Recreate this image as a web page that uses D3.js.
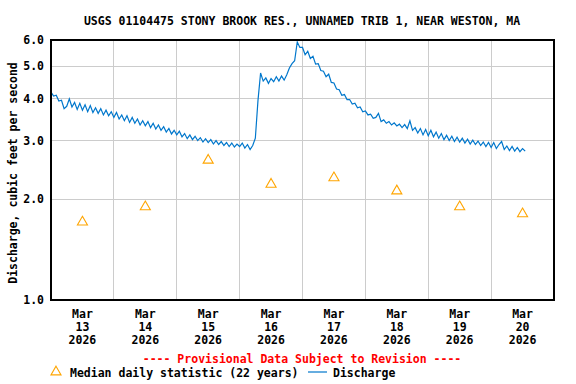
<!DOCTYPE html>
<html>
<head>
<meta charset="utf-8">
<script src="https://cdn.jsdelivr.net/npm/d3@7"></script>
<style>
  body { margin: 0; background: #fff; }
  svg { display: block; }
  text { font-family: "DejaVu Sans Mono", "Liberation Mono", monospace; font-weight: bold; }
</style>
</head>
<body>
<svg id="chart"></svg>
<script>
// chart data
var title = "USGS 01104475 STONY BROOK RES., UNNAMED TRIB 1, NEAR WESTON, MA"
var tickMonth = "Mar"
var tickDays = ["13", "14", "15", "16", "17", "18", "19", "20"]
var tickYear = "2026"
var yTicks = [1, 2, 3, 4, 5, 6]

// median daily statistic, one per day (plotted at noon)
var medianDaily = [1.71, 1.9, 2.62, 2.22, 2.32, 2.12, 1.9, 1.81]

// hourly discharge, cfs
var qMar13 = [4.19, 4.08, 4.10, 3.94, 3.96, 3.74, 3.80, 4.00, 3.78, 3.90, 3.72, 3.88, 3.70, 3.84, 3.66, 3.82, 3.64, 3.76, 3.62, 3.74, 3.58, 3.70, 3.56, 3.66]
var qMar14 = [3.52, 3.64, 3.48, 3.58, 3.44, 3.56, 3.40, 3.52, 3.38, 3.48, 3.34, 3.44, 3.32, 3.42, 3.28, 3.38, 3.25, 3.34, 3.22, 3.30, 3.18, 3.26, 3.14, 3.22]
var qMar15 = [3.12, 3.20, 3.08, 3.15, 3.04, 3.12, 3.02, 3.09, 3.00, 3.06, 2.97, 3.04, 2.96, 3.02, 2.93, 3.00, 2.92, 2.98, 2.90, 2.96, 2.88, 2.95, 2.87, 2.93]
var qMar16 = [2.88, 2.95, 2.85, 2.92, 2.82, 2.90, 3.05, 3.95, 4.78, 4.52, 4.62, 4.45, 4.60, 4.50, 4.66, 4.52, 4.68, 4.55, 4.72, 4.95, 5.10, 5.20, 5.92, 5.70]
var qMar17 = [5.70, 5.42, 5.55, 5.28, 5.36, 5.08, 5.10, 4.86, 4.84, 4.66, 4.74, 4.48, 4.46, 4.28, 4.26, 4.10, 4.12, 3.98, 3.98, 3.86, 3.88, 3.76, 3.78, 3.66]
var qMar18 = [3.68, 3.58, 3.60, 3.50, 3.52, 3.62, 3.42, 3.46, 3.38, 3.42, 3.34, 3.39, 3.32, 3.36, 3.28, 3.35, 3.26, 3.44, 3.22, 3.28, 3.16, 3.26, 3.12, 3.24]
var qMar19 = [3.10, 3.22, 3.08, 3.18, 3.05, 3.15, 3.02, 3.11, 3.00, 3.09, 2.98, 3.07, 2.97, 3.05, 2.95, 3.03, 2.93, 3.01, 2.92, 2.99, 2.90, 2.97, 2.88, 2.96]
var qMar20 = [2.86, 2.96, 2.84, 2.92, 2.98, 2.82, 2.89, 2.80, 2.88, 2.79, 2.86, 2.78, 2.84, 2.79]

var dimensions = {
    width: 576,
    height: 384,
    margin: { top: 40, bottom: 84, left: 51, right: 22 }
}

var svg = d3.select("#chart")
    .attr("width", dimensions.width)
    .attr("height", dimensions.height)

var x0 = dimensions.margin.left
var x1 = dimensions.width - dimensions.margin.right
var y0 = dimensions.margin.top
var y1 = dimensions.height - dimensions.margin.bottom

var start = new Date(2026, 2, 13)
var end = new Date(2026, 2, 21)

var xScale = d3.scaleTime().domain([start, end]).range([x0, x1])
var yScale = d3.scaleLog().domain([1, 6]).range([y1, y0])

var discharge = []
;[qMar13, qMar14, qMar15, qMar16, qMar17, qMar18, qMar19, qMar20].forEach(function (day, d) {
    day.forEach(function (v, h) {
        discharge.push({ t: new Date(2026, 2, 13 + d, h), v: v })
    })
})

// title
svg.append("text")
    .attr("x", 302).attr("y", 21).attr("dy", "0.35em")
    .attr("text-anchor", "middle")
    .style("font-size", "11.5px")
    .text(title)

// grid
var grid = svg.append("g").attr("stroke", "#cccccc").attr("stroke-width", 1).style("shape-rendering", "crispEdges")
grid.selectAll("line.v")
    .data(d3.timeDay.range(new Date(2026, 2, 14), end))
    .enter().append("line")
    .attr("x1", function (d) { return xScale(d) }).attr("x2", function (d) { return xScale(d) })
    .attr("y1", y0).attr("y2", y1)
grid.selectAll("line.h")
    .data(yTicks.slice(1, -1))
    .enter().append("line")
    .attr("x1", x0).attr("x2", x1)
    .attr("y1", function (d) { return yScale(d) }).attr("y2", function (d) { return yScale(d) })

// discharge line
var line = d3.line()
    .x(function (d) { return xScale(d.t) })
    .y(function (d) { return yScale(d.v) })

svg.append("path")
    .datum(discharge)
    .attr("d", line)
    .attr("fill", "none")
    .attr("stroke", "#0077cc")
    .attr("stroke-width", 1.2)

// median triangles
var tri = d3.symbol().type(d3.symbolTriangle).size(44)
svg.selectAll("path.median")
    .data(medianDaily)
    .enter().append("path")
    .attr("d", tri)
    .attr("transform", function (d, i) {
        return "translate(" + xScale(new Date(2026, 2, 13 + i, 12)) + "," + yScale(d) + ")"
    })
    .attr("fill", "none")
    .attr("stroke", "#ffa500")
    .attr("stroke-width", 1.1)

// frame
svg.append("rect")
    .attr("x", x0).attr("y", y0)
    .attr("width", x1 - x0).attr("height", y1 - y0)
    .attr("fill", "none").attr("stroke", "#000").attr("stroke-width", 1.3)
    .style("shape-rendering", "crispEdges")

// y tick labels
svg.selectAll("text.ytick")
    .data(yTicks)
    .enter().append("text")
    .attr("x", 44).attr("y", function (d) { return yScale(d) }).attr("dy", "0.35em")
    .attr("text-anchor", "end")
    .style("font-size", "11.5px")
    .text(function (d) { return d.toFixed(1) })

// x tick labels
var xl = svg.selectAll("g.xtick")
    .data(tickDays)
    .enter().append("g")
    .attr("transform", function (d, i) { return "translate(" + xScale(new Date(2026, 2, 13 + i, 12)) + ",0)" })
xl.append("text").attr("y", 314).attr("dy", "0.35em").attr("text-anchor", "middle").style("font-size", "11.5px").text(tickMonth)
xl.append("text").attr("y", 327).attr("dy", "0.35em").attr("text-anchor", "middle").style("font-size", "11.5px").text(function (d) { return d })
xl.append("text").attr("y", 340).attr("dy", "0.35em").attr("text-anchor", "middle").style("font-size", "11.5px").text(tickYear)

// y axis title
svg.append("text")
    .attr("transform", "translate(13," + ((y0 + y1) / 2 + 3) + ") rotate(-90)")
    .attr("dy", "0.35em")
    .attr("text-anchor", "middle")
    .style("font-size", "11.5px")
    .text("Discharge, cubic feet per second")

// provisional note
svg.append("text")
    .attr("x", 302).attr("y", 359).attr("dy", "0.35em")
    .attr("text-anchor", "middle")
    .attr("fill", "#ff0000")
    .style("font-size", "11.5px")
    .text("---- Provisional Data Subject to Revision ----")

// legend
svg.append("path")
    .attr("d", tri)
    .attr("transform", "translate(56,372)")
    .attr("fill", "none").attr("stroke", "#ffa500").attr("stroke-width", 1.1)
svg.append("text")
    .attr("x", 70).attr("y", 373).attr("dy", "0.35em")
    .style("font-size", "11.5px")
    .text("Median daily statistic (22 years)")
svg.append("line")
    .attr("x1", 308).attr("x2", 327).attr("y1", 372).attr("y2", 372)
    .attr("stroke", "#0077cc").attr("stroke-width", 1.2)
svg.append("text")
    .attr("x", 333).attr("y", 373).attr("dy", "0.35em")
    .style("font-size", "11.5px")
    .text("Discharge")
</script>
</body>
</html>
